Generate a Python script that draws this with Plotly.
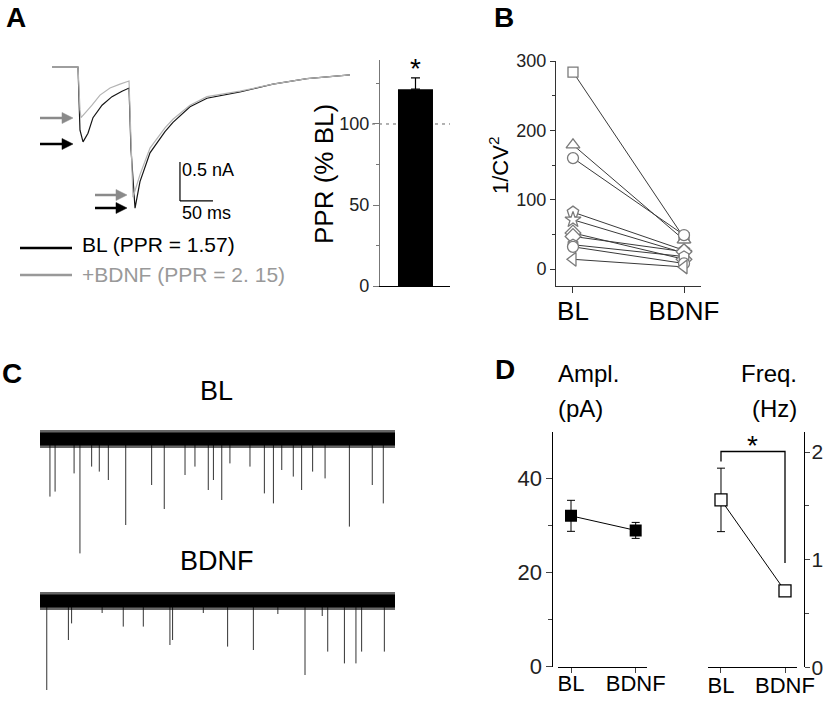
import plotly.graph_objects as go

W, H = 825, 701
FONT = "Arial, Liberation Sans, sans-serif"

# ---------------- data ----------------
# Panel A: paired-pulse EPSCs (time in ms, current in nA)
BL_T_MS = [0, 39.4, 42.4, 47.0, 54.5, 62.1, 75.8, 90.9, 106.1, 116.7, 119.7, 125.8,
           133.3, 148.5, 171.2, 183.3, 209.1, 234.8, 284.8, 334.8, 386.4, 451.5]
BL_I_NA = [0, 0, -0.81, -0.96, -0.85, -0.65, -0.49, -0.38, -0.31, -0.27, -1.06, -1.81,
           -1.47, -1.10, -0.83, -0.71, -0.51, -0.40, -0.32, -0.22, -0.15, -0.10]
BDNF_T_MS = [0, 39.4, 42.4, 43.9, 50.0, 60.6, 72.7, 87.9, 103.0, 116.7, 119.7, 122.7,
             133.3, 148.5, 171.2, 183.3, 209.1, 234.8, 284.8, 334.8, 386.4, 451.5]
BDNF_I_NA = [0, 0, -0.55, -0.65, -0.59, -0.49, -0.36, -0.27, -0.22, -0.18, -0.94, -1.67,
             -1.38, -1.04, -0.78, -0.67, -0.49, -0.38, -0.31, -0.22, -0.15, -0.10]
SCALE_T_MS, SCALE_I_NA = 50, 0.5
LEGEND_A = ["BL (PPR = 1.57)", "+BDNF (PPR = 2. 15)"]

# Panel A inset: PPR (% of baseline)
PPR_MEAN = [121.5]
PPR_SEM = [7.0]

# Panel B: 1/CV^2 per cell
CELL_SYMBOLS = ["square", "triangle-up", "circle", "pentagon", "star",
                "diamond", "diamond", "hexagon", "circle", "triangle-left"]
INV_CV2_BL = [284, 179, 160, 82, 71, 52, 47, 35, 32, 14]
INV_CV2_BDNF = [45, 42, 49, 27, 23, 14, 25, 18, 8, 3]
CONDITIONS = ["BL", "BDNF"]

# Panel C: spontaneous events (time in s, amplitude in pA)
SWEEP_S = 20
BL_EVENT_T = [0.56, 0.85, 1.92, 2.25, 2.91, 3.34, 3.85, 4.83, 6.29, 7.00, 8.17, 8.73,
              9.48, 9.77, 10.24, 10.70, 11.83, 12.64, 13.15, 13.62, 14.27, 14.74,
              15.36, 16.06, 17.43, 18.72, 19.34]
BL_EVENT_AMP = [28.8, 26.3, 17.2, 57.2, 13.8, 16.3, 20.5, 43.0, 23.0, 35.0, 18.0, 13.8,
                25.5, 20.5, 30.5, 12.2, 13.8, 27.2, 32.2, 15.5, 18.8, 25.5,
                16.3, 19.7, 43.8, 23.0, 32.2]
BDNF_EVENT_T = [0.38, 1.60, 1.78, 3.50, 4.69, 5.82, 7.32, 7.47, 9.20, 10.57, 12.02,
                13.40, 14.93, 15.90, 16.21, 17.15, 17.80, 18.12, 19.40]
BDNF_EVENT_AMP = [44.5, 19.5, 11.2, 6.0, 12.8, 12.8, 22.0, 19.5, 6.0, 22.8, 24.5,
                  6.5, 37.0, 7.5, 25.3, 31.2, 31.2, 25.3, 25.3]

# Panel D: mean +/- SEM
AMPL_MEAN = [32.1, 29.0]
AMPL_SEM = [3.3, 1.7]
FREQ_MEAN = [1.556, 0.71]
FREQ_SEM = [0.295, 0.035]


# ---------------- helpers ----------------
def fx(px):
    return px / W


def fy(py):
    return 1 - py / H


def text(fig, s, x, y, size, color="black", xanchor="left", angle=0, bold=False):
    fig.add_annotation(
        text=f"<b>{s}</b>" if bold else s,
        x=fx(x), y=fy(y), xref="paper", yref="paper",
        xanchor=xanchor, yanchor="middle", showarrow=False, textangle=angle,
        font=dict(family=FONT, size=size, color=color),
    )


def hline_px(fig, x0, x1, y, color, width=1, dash="solid"):
    fig.add_shape(type="line", xref="paper", yref="paper",
                  x0=fx(x0), x1=fx(x1), y0=fy(y), y1=fy(y),
                  line=dict(color=color, width=width, dash=dash))


def arrow_px(fig, x0, x1, y, color):
    # shaft + filled head, drawn in pixel positions
    hline_px(fig, x0, x1 - 8, y, color, 2.5)
    path = (f"M {fx(x1 - 11)},{fy(y - 5.5)} L {fx(x1)},{fy(y)} "
            f"L {fx(x1 - 11)},{fy(y + 5.5)} Z")
    fig.add_shape(type="path", xref="paper", yref="paper", path=path,
                  fillcolor=color, line=dict(color=color, width=0.5))


def event_segments(times, amps):
    xs, ys = [], []
    for t, a in zip(times, amps):
        xs += [t, t, None]
        ys += [0, -a, None]
    return xs, ys


hidden = dict(visible=False, showgrid=False, zeroline=False, fixedrange=True, automargin=False)
tick_axis = dict(showgrid=False, zeroline=False, showline=True, ticks="outside", automargin=False,
                 tickfont=dict(family=FONT, size=18, color="#222"))

fig = go.Figure()

# ---------------- A: traces ----------------
fig.add_trace(go.Scatter(x=BL_T_MS, y=BL_I_NA, mode="lines",
                         line=dict(color="#151515", width=1.2),
                         xaxis="x", yaxis="y"))
fig.add_trace(go.Scatter(x=BDNF_T_MS, y=BDNF_I_NA, mode="lines",
                         line=dict(color="#b4b4b4", width=1.2),
                         xaxis="x", yaxis="y"))

# scale bar
sb_t0, sb_i0 = 193.9, -1.718
fig.add_shape(type="line", xref="x", yref="y", x0=sb_t0, x1=sb_t0,
              y0=sb_i0, y1=sb_i0 + SCALE_I_NA, line=dict(color="black", width=1.2))
fig.add_shape(type="line", xref="x", yref="y", x0=sb_t0, x1=sb_t0 + SCALE_T_MS,
              y0=sb_i0, y1=sb_i0, line=dict(color="black", width=1.2))
text(fig, f"{SCALE_I_NA} nA", 180, 170, 18)
text(fig, f"{SCALE_T_MS} ms", 180, 213, 18)

# peak arrows
arrow_px(fig, 40, 73, 118, "#8a8a8a")
arrow_px(fig, 40, 73, 144, "black")
arrow_px(fig, 95, 127, 195, "#8a8a8a")
arrow_px(fig, 95, 127, 208, "black")

# legend
hline_px(fig, 20, 72, 248, "black", 2.5)
hline_px(fig, 20, 72, 275, "#999999", 2.5)
text(fig, LEGEND_A[0], 80, 244, 21)
text(fig, LEGEND_A[1], 80, 274, 21, color="#999999")

# ---------------- A: PPR bar ----------------
fig.add_shape(type="line", xref="paper", yref="y2", x0=fx(372), x1=fx(450),
              y0=100, y1=100, layer="below",
              line=dict(color="#666", width=1, dash="3px,4px"))
fig.add_trace(go.Bar(x=[0.507], y=PPR_MEAN, width=0.5, marker=dict(color="black", line=dict(width=0)),
                     error_y=dict(type="data", array=PPR_SEM, arrayminus=[0], symmetric=False,
                                  color="black", thickness=1.2, width=4.5),
                     xaxis="x2", yaxis="y2"))
text(fig, "*", 415, 69, 28, xanchor="center")
text(fig, "PPR (% BL)", 324, 174, 26, xanchor="center", angle=-90)

# ---------------- B: 1/CV^2 ----------------
for bl, bd in zip(INV_CV2_BL, INV_CV2_BDNF):
    fig.add_trace(go.Scatter(x=[0, 1], y=[bl, bd], mode="lines",
                             line=dict(color="#3a3a3a", width=1),
                             xaxis="x3", yaxis="y3"))
sizes = {"square": 10, "circle": 11, "triangle-up": 12, "triangle-left": 12,
         "pentagon": 12, "star": 12, "diamond": 12, "hexagon": 11}
for sym, bl, bd in zip(CELL_SYMBOLS, INV_CV2_BL, INV_CV2_BDNF):
    fig.add_trace(go.Scatter(x=[0, 1], y=[bl, bd], mode="markers",
                             marker=dict(symbol=sym, size=sizes[sym], color="white",
                                         line=dict(color="#7a7a7a", width=1.3)),
                             xaxis="x3", yaxis="y3"))
text(fig, "1/CV<sup>2</sup>", 499, 166, 22, xanchor="center", angle=-90)

# ---------------- C: spontaneous traces ----------------
for (times, amps, xa, ya) in [(BL_EVENT_T, BL_EVENT_AMP, "x4", "y4"),
                              (BDNF_EVENT_T, BDNF_EVENT_AMP, "x5", "y5")]:
    ex, ey = event_segments(times, amps)
    fig.add_trace(go.Scatter(x=ex, y=ey, mode="lines",
                             line=dict(color="#333", width=1), xaxis=xa, yaxis=ya))
    fig.add_trace(go.Scatter(x=[0, SWEEP_S], y=[0, 0], mode="lines",
                             line=dict(color="rgba(0,0,0,0.6)", width=18), xaxis=xa, yaxis=ya))
    fig.add_trace(go.Scatter(x=[0, SWEEP_S], y=[0, 0], mode="lines",
                             line=dict(color="black", width=13), xaxis=xa, yaxis=ya))
text(fig, CONDITIONS[0], 217, 391, 27, xanchor="center")
text(fig, CONDITIONS[1], 217, 561, 27, xanchor="center")

# ---------------- D: amplitude / frequency ----------------
fig.add_trace(go.Scatter(x=[0, 1], y=AMPL_MEAN, mode="lines+markers",
                         line=dict(color="black", width=1),
                         marker=dict(symbol="square", size=12, color="black"),
                         error_y=dict(type="data", array=AMPL_SEM, color="black",
                                      thickness=1, width=4),
                         xaxis="x6", yaxis="y6"))
fig.add_trace(go.Scatter(x=[0, 1], y=FREQ_MEAN, mode="lines+markers",
                         line=dict(color="black", width=1),
                         marker=dict(symbol="square", size=12, color="white",
                                     line=dict(color="black", width=1.3)),
                         error_y=dict(type="data", array=FREQ_SEM, color="black",
                                      thickness=1, width=4),
                         xaxis="x7", yaxis="y7"))
fig.add_shape(type="path", xref="x7", yref="y7",
              path="M 0,1.913 L 0,2.006 L 1,2.006 L 1,0.97",
              line=dict(color="black", width=1.3))
text(fig, "*", 752, 445, 28, xanchor="center")
text(fig, "Ampl.", 556, 373, 24)
text(fig, "(pA)", 556, 409, 24)
text(fig, "Freq.", 799, 373, 24, xanchor="right")
text(fig, "(Hz)", 799, 409, 24, xanchor="right")

# panel letters
for letter, x, y in [("A", 4, 18), ("B", 492, 18), ("C", 0, 373), ("D", 493, 370)]:
    text(fig, letter, x, y, 28, bold=True)

xcat = dict(tickvals=[0, 1], ticktext=CONDITIONS, ticks="outside", showgrid=False,
            zeroline=False, showline=True, automargin=False)

fig.update_layout(
    width=W, height=H, margin=dict(l=0, r=0, t=0, b=0, pad=0), autosize=False,
    paper_bgcolor="white", plot_bgcolor="rgba(0,0,0,0)", showlegend=False,
    font=dict(family=FONT),
    # A traces
    xaxis=dict(domain=[fx(40), fx(360)], range=[-18.2, 466.7], **hidden),
    yaxis=dict(domain=[fy(220), fy(55)], range=[-1.962, 0.154], anchor="x", **hidden),
    # A bar
    xaxis2=dict(domain=[fx(380), fx(450)], range=[0, 1], anchor="y2", showgrid=False,
                zeroline=False, showline=True, linecolor="black", linewidth=1.2,
                showticklabels=False, ticks="", automargin=False),
    yaxis2=dict(domain=[fy(286), fy(60)], range=[0, 139.5], anchor="x2",
                tickvals=[0, 50, 100], ticklen=6, linecolor="#777", tickcolor="#777",
                linewidth=1.3, minor=dict(tickvals=[25, 75, 125], ticklen=3, ticks="outside",
                                          tickcolor="#777"), **tick_axis),
    # B
    xaxis3=dict(domain=[fx(556), fx(701)], range=[-0.153, 1.153], anchor="y3",
                ticklen=6, linecolor="#333", tickcolor="#333", ticklabelstandoff=-4,
                tickfont=dict(family=FONT, size=26, color="black"), **xcat),
    yaxis3=dict(domain=[fy(286), fy(61)], range=[-24.5, 300], anchor="x3",
                tickvals=[0, 100, 200, 300], ticklen=5, linecolor="#333", tickcolor="#333",
                minor=dict(tickvals=[50, 150, 250], ticklen=3, ticks="outside",
                           tickcolor="#333"), **tick_axis),
    # C
    xaxis4=dict(domain=[fx(40), fx(395)], range=[0, SWEEP_S], anchor="y4", **hidden),
    yaxis4=dict(domain=[fy(560), fy(415)], range=[-60.5, 12], anchor="x4", **hidden),
    xaxis5=dict(domain=[fx(40), fx(395)], range=[0, SWEEP_S], anchor="y5", **hidden),
    yaxis5=dict(domain=[fy(700), fy(580)], range=[-49.5, 10.5], anchor="x5", **hidden),
    # D amplitude
    xaxis6=dict(domain=[fx(558), fx(647)], range=[-0.201, 1.175], anchor="y6",
                ticklen=5, linecolor="black", ticklabelstandoff=-8,
                tickfont=dict(family=FONT, size=22, color="black"), **xcat),
    yaxis6=dict(domain=[fy(666.7), fy(431.7)], range=[0, 50], anchor="free",
                position=fx(552.3), tickvals=[0, 20, 40], ticklen=6, linecolor="black",
                minor=dict(tickvals=[10, 30], ticklen=4, ticks="outside"),
                **{**tick_axis, "tickfont": dict(family=FONT, size=22, color="#222")}),
    # D frequency
    xaxis7=dict(domain=[fx(708), fx(797)], range=[-0.203, 1.1875], anchor="y7",
                ticklen=5, linecolor="black", ticklabelstandoff=-7,
                tickfont=dict(family=FONT, size=22, color="black"), **xcat),
    yaxis7=dict(domain=[fy(667.3), fy(431.7)], range=[0, 2.19], anchor="free", side="right",
                position=fx(804.3), tickvals=[0, 1, 2], ticklen=5, linecolor="black",
                ticklabelstandoff=-3,
                minor=dict(tickvals=[0.5, 1.5], ticklen=4, ticks="outside"),
                **{**tick_axis, "tickfont": dict(family=FONT, size=21, color="#222")}),
)

# the page's default body margin would shift the figure by 8 px
fig.write_html("out.html", config={"displayModeBar": False},
               post_script="document.body.style.margin='0';document.body.style.overflow='hidden';")
